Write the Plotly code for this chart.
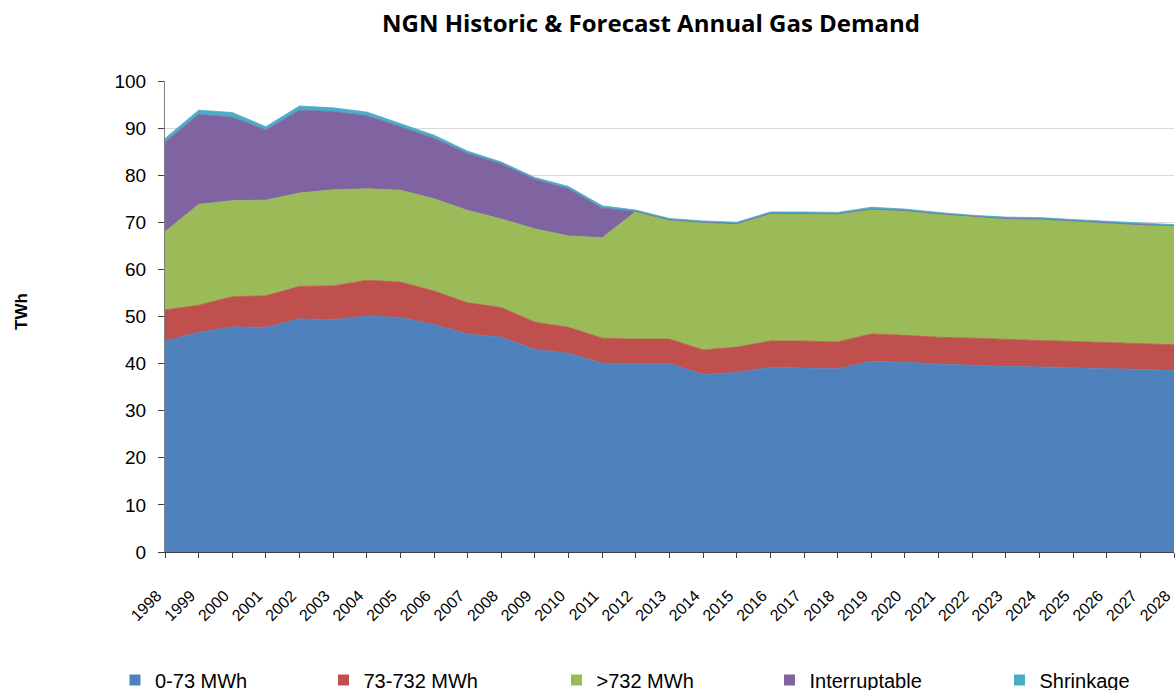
import plotly.graph_objects as go

years = [str(y) for y in range(1998, 2029)]

small_0_73 = [44.8, 46.6, 47.8, 47.7, 49.5, 49.3, 50.1, 49.8, 48.3, 46.3, 45.6, 43.0, 42.2, 40.1, 40.0,
              40.0, 37.7, 38.1, 39.2, 39.1, 38.9, 40.5, 40.3, 39.9, 39.6, 39.4, 39.3, 39.1, 38.9, 38.7, 38.6]
mid_73_732 = [6.6, 5.8, 6.4, 6.7, 6.9, 7.2, 7.6, 7.5, 7.1, 6.6, 6.3, 5.8, 5.5, 5.3, 5.2,
              5.2, 5.2, 5.4, 5.6, 5.7, 5.7, 5.8, 5.7, 5.7, 5.8, 5.7, 5.6, 5.6, 5.6, 5.5, 5.4]
large_732 = [16.6, 21.4, 20.4, 20.3, 19.8, 20.4, 19.4, 19.5, 19.6, 19.6, 18.8, 19.8, 19.4, 21.3, 27.1,
             25.3, 27.1, 26.2, 27.1, 27.1, 27.2, 26.5, 26.5, 26.2, 25.9, 25.7, 25.8, 25.6, 25.4, 25.3, 25.3]
interruptable = [19.0, 19.1, 17.7, 14.9, 17.6, 16.6, 15.5, 13.5, 12.8, 12.1, 11.7, 10.5, 10.0, 6.3, 0.0,
                 0.0, 0.0, 0.0, 0.0, 0.0, 0.0, 0.0, 0.0, 0.0, 0.0, 0.0, 0.0, 0.0, 0.0, 0.0, 0.0]
shrinkage = [0.8, 0.9, 1.0, 0.7, 0.9, 0.8, 0.8, 0.7, 0.7, 0.5, 0.4, 0.4, 0.5, 0.5, 0.3,
             0.3, 0.3, 0.3, 0.3, 0.3, 0.3, 0.4, 0.3, 0.3, 0.2, 0.3, 0.3, 0.3, 0.3, 0.3, 0.2]

series_names = ["0-73 MWh", "73-732 MWh", ">732 MWh", "Interruptable", "Shrinkage"]
series_values = [small_0_73, mid_73_732, large_732, interruptable, shrinkage]
series_colors = ["#4F81BD", "#C0504D", "#9BBB59", "#8064A2", "#4BACC6"]

FONT = "Arial, Liberation Sans, sans-serif"
W, H = 1176, 690
L, R, T, B = 165, 2, 81, 138
PW, PH = W - L - R, H - T - B
legend_x_px = [115, 323.5, 556.5, 769.5, 999.5]
legend_ids = ["legend", "legend2", "legend3", "legend4", "legend5"]

fig = go.Figure()
for name, vals, col in zip(series_names, series_values, series_colors):
    fig.add_trace(go.Scatter(
        x=years, y=vals, name=name, stackgroup="one", mode="lines",
        line=dict(color=col, width=0.8), fillcolor=col, showlegend=False,
        hoverinfo="x+y+name"))
for name, col, lid in zip(series_names, series_colors, legend_ids):
    fig.add_trace(go.Scatter(
        x=[None], y=[None], name=name, mode="markers", legend=lid,
        marker=dict(symbol="square", size=11, color=col), showlegend=True))

layout_legends = {}
for lid, lx in zip(legend_ids, legend_x_px):
    layout_legends[lid] = dict(
        orientation="h", xref="container", yref="container",
        x=lx / W, xanchor="left", y=10 / H, yanchor="middle",
        font=dict(family=FONT, size=20), bgcolor="rgba(0,0,0,0)")

fig.update_layout(
    width=W, height=H,
    margin=dict(l=L, r=R, t=T, b=B),
    paper_bgcolor="white", plot_bgcolor="white",
    font=dict(family=FONT, color="black"),
    showlegend=True,
    annotations=[
        dict(text="<b>NGN Historic & Forecast Annual Gas Demand</b>", xref="paper", yref="paper",
             x=(651 - L) / PW, y=1.0 + (T - 22) / PH, xanchor="center", yanchor="middle",
             showarrow=False,
             font=dict(family="Open Sans, sans-serif", size=24, color="black")),
        dict(text="<b>TWh</b>", xref="paper", yref="paper", x=(21 - L) / PW, y=(552 - 312) / PH,
             xanchor="center", yanchor="middle", textangle=-90, showarrow=False,
             font=dict(family=FONT, size=17, color="black")),
    ],
    **layout_legends,
)
fig.update_xaxes(
    type="category", range=[0, 30], tickangle=-45, tickfont=dict(family=FONT, size=16),
    showline=True, linecolor="#404040", linewidth=1, ticks="outside", ticklen=5,
    tickcolor="#404040", showgrid=False, zeroline=False, automargin=False,
    ticklabelstandoff=22, ticklabelshift=-8)
fig.update_yaxes(
    range=[0, 100], dtick=10, tickfont=dict(family=FONT, size=19),
    showline=True, linecolor="#808080", linewidth=1, ticks="outside", ticklen=6,
    tickcolor="#404040", showgrid=True, gridcolor="#D9D9D9", gridwidth=1, zeroline=False,
    automargin=False, ticklabelstandoff=8)

fig.write_html(
    "out.html",
    config={"displayModeBar": False},
    post_script="document.body.style.margin='0';document.body.style.overflow='hidden';",
)
